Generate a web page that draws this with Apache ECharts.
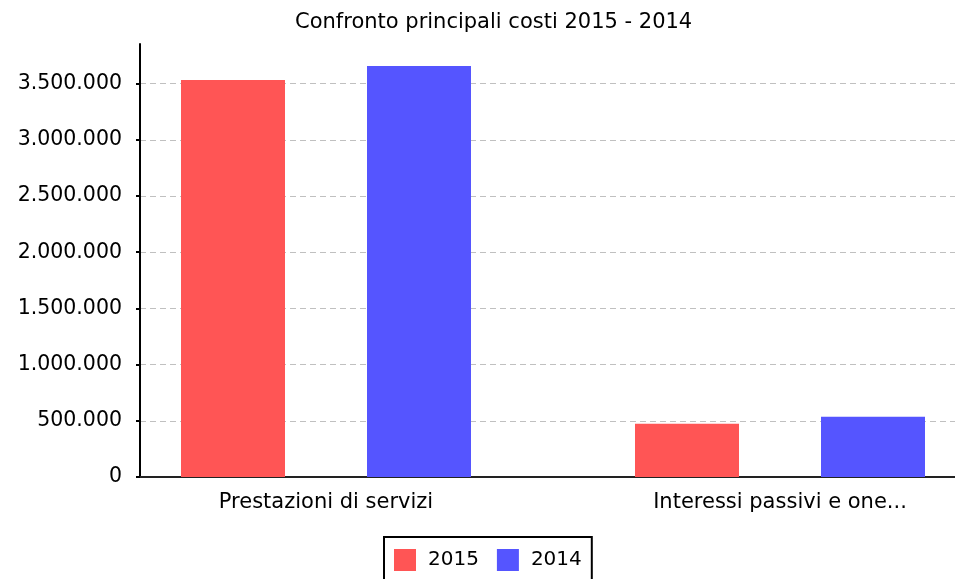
<!DOCTYPE html>
<html>
<head>
<meta charset="utf-8">
<script src="https://cdn.jsdelivr.net/npm/echarts@6/dist/echarts.min.js"></script>
<style>html,body{margin:0;padding:0;background:#fff}#c{width:955px;height:579px}</style>
</head>
<body>
<div id="c"></div>
<script>
var title = 'Confronto principali costi 2015 - 2014';
var categories = ['Prestazioni di servizi', 'Interessi passivi e one...'];
var seriesNames = ['2015', '2014'];
var values2015 = [3535000, 474000];
var values2014 = [3660000, 536000];
var yTickMax = 3500000;
var yTickStep = 500000;
var yAxisTop = 3855000;

var FONT = 'DejaVu Sans';
function fmt(v) {
  return String(Math.round(v)).replace(/\B(?=(\d{3})+(?!\d))/g, '.');
}
var chart = echarts.init(document.getElementById('c'), null, {renderer: 'canvas'});
var gridBottom = 102;
chart.setOption({
  animation: false,
  backgroundColor: '#fff',
  title: {
    text: title, left: 290, top: 7,
    textStyle: {fontFamily: FONT, fontSize: 21, fontWeight: 'normal', color: '#000'}
  },
  legend: {
    data: seriesNames, left: 384, top: 537,
    itemWidth: 22, itemHeight: 22, itemGap: 18,
    borderColor: '#000', borderWidth: 2, padding: [12, 10, 12, 10],
    icon: 'rect',
    textStyle: {fontFamily: FONT, fontSize: 20, color: '#000', padding: [0, 0, 0, 7]}
  },
  grid: [
    {left: 140, right: 0, top: 44, bottom: gridBottom, outerBoundsMode: 'none'},
    {left: 140, right: 0, top: 83.6, bottom: gridBottom, outerBoundsMode: 'none'},
    {left: 99, width: 908, top: 44, bottom: gridBottom, outerBoundsMode: 'none', containLabel: false}
  ],
  xAxis: [
    {gridIndex: 0, type: 'category', data: categories, axisLine: {show: true, lineStyle: {color: '#222', width: 2}}, axisTick: {show: false}, axisLabel: {show: false}, splitLine: {show: false}},
    {gridIndex: 1, type: 'category', data: categories, show: false},
    {gridIndex: 2, type: 'category', data: categories, axisLine: {show: false}, axisTick: {show: false},
      axisLabel: {fontFamily: FONT, fontSize: 21, color: '#000', margin: 15, interval: 0}}
  ],
  yAxis: [
    {gridIndex: 0, type: 'value', min: 0, max: yAxisTop, axisLine: {show: true, lineStyle: {color: '#000', width: 2}}, axisTick: {show: false}, axisLabel: {show: false}, splitLine: {show: false}},
    {gridIndex: 1, type: 'value', min: 0, max: yTickMax, interval: yTickStep,
      axisLine: {show: false},
      axisTick: {show: true, length: 4, lineStyle: {color: '#000', width: 2}},
      axisLabel: {fontFamily: FONT, fontSize: 20.5, color: '#000', margin: 18, formatter: fmt},
      splitLine: {show: true, lineStyle: {color: '#c0c0c0', type: [6, 4], width: 1}}},
    {gridIndex: 2, type: 'value', min: 0, max: yAxisTop, show: false}
  ],
  series: [
    {name: seriesNames[0], type: 'bar', xAxisIndex: 2, yAxisIndex: 2, data: values2015, barWidth: 104, barGap: '78.85%', itemStyle: {color: '#FF5555'}},
    {name: seriesNames[1], type: 'bar', xAxisIndex: 2, yAxisIndex: 2, data: values2014, barWidth: 104, barGap: '78.85%', itemStyle: {color: '#5555FF'}}
  ]
});
</script>
</body>
</html>
